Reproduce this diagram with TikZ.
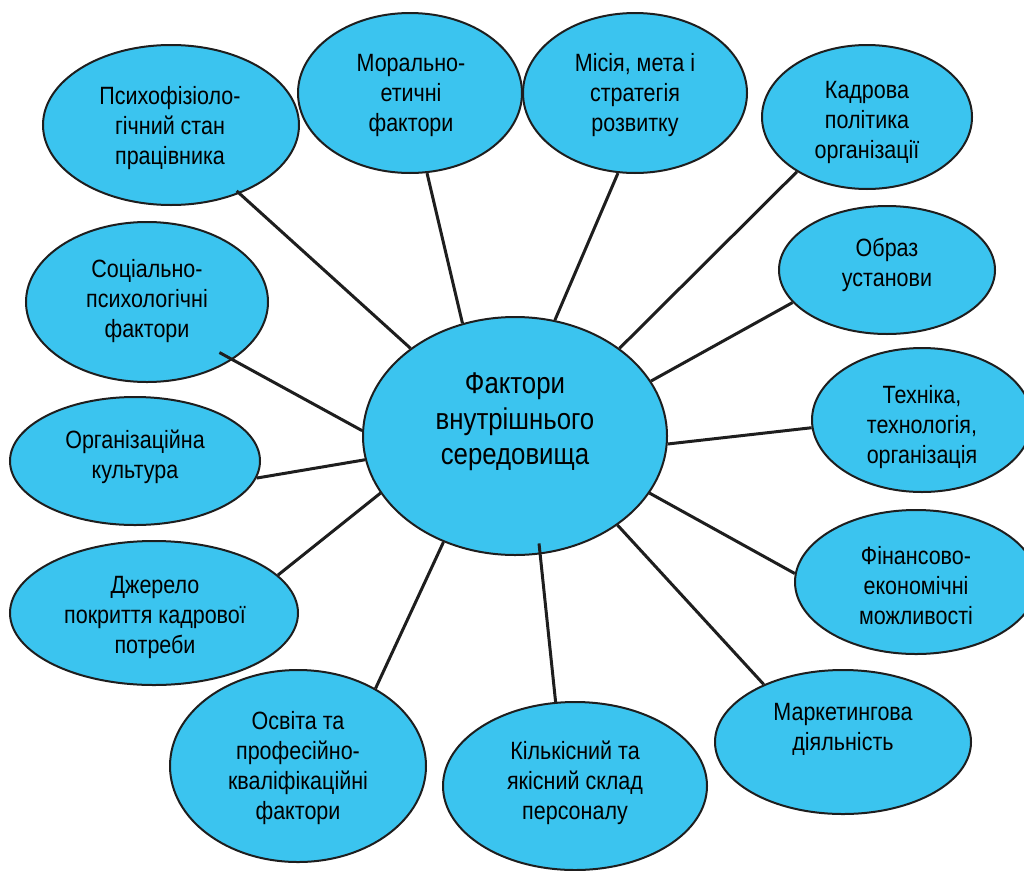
\documentclass[tikz,border=0pt]{standalone}
\usepackage{fontspec}
\setmainfont{Liberation Sans}[FakeStretch=0.86]
\usetikzlibrary{shapes.geometric}
\definecolor{bubblefill}{RGB}{59,196,239}
\definecolor{ink}{RGB}{30,30,30}
% name, cx, cy, width, height, tx, ty, text
\newcommand\bubblenode[8]{%
  \node[bub, minimum width=#4pt, minimum height=#5pt] (#1) at (#2,#3) {};
  \node[txt] (#1t) at (#6,#7) {#8};
}
\begin{document}
\begin{tikzpicture}[x=1pt,y=-1pt,
  bub/.style={ellipse, draw=ink, line width=2pt, fill=bubblefill, inner sep=0pt},
  txt/.style={align=center, font=\fontsize{25}{30}\selectfont, inner sep=0pt, text=black},
  bigtxt/.style={align=center, font=\fontsize{30}{35.5}\selectfont, inner sep=0pt, text=black},
  link/.style={draw=ink, line width=3pt}]

\useasboundingbox (0,0) rectangle (1024,870);

% central node
\node[bub, minimum width=304pt, minimum height=238pt] (c) at (515,436) {};
\node[bigtxt] (ct) at (515,422) {Фактори\\внутрішнього\\середовища};

\bubblenode{b1}{171}{125}{256}{160}{170}{128}{Психофізіоло-\\гічний стан\\працівника}
\bubblenode{b2}{410}{93}{224}{160}{411}{95}{Морально-\\етичні\\фактори}
\bubblenode{b3}{635}{93}{224}{160}{635}{95}{Місія, мета і\\стратегія\\розвитку}
\bubblenode{b4}{867}{117}{210}{144}{867}{122}{Кадрова\\політика\\організації}
\bubblenode{b5}{887}{270}{216}{128}{887}{265}{Образ\\установи}
\bubblenode{b6}{147}{302}{242}{160}{147}{301}{Соціально-\\психологічні\\фактори}
\bubblenode{b7}{135}{461}{250}{128}{135}{457}{Організаційна\\культура}
\bubblenode{b8}{922}{420}{220}{144}{922}{427}{Техніка,\\технологія,\\організація}
\bubblenode{b9}{154}{613}{288}{144}{155}{617}{Джерело\\покриття кадрової\\потреби}
\bubblenode{b10}{916}{582}{242}{144}{916}{586}{Фінансово-\\економічні\\можливості}
\bubblenode{b11}{298}{766}{256}{192}{298}{768}{Освіта та\\професійно-\\кваліфікаційні\\фактори}
\bubblenode{b12}{575}{786}{264}{168}{575}{783}{Кількісний та\\якісний склад\\персоналу}
\bubblenode{b13}{843}{742}{256}{144}{843}{729}{Маркетингова\\діяльність}

% connectors
\draw[link, shorten >=-4pt] (c.140) -- (b1.-45);
\draw[link] (c.115) -- (b2.-78);
\draw[link] (c.71) -- (b3.-102);
\draw[link] (c.40) -- (b4.-142);
\draw[link] (c.22) -- (b5.-161);
\draw[link] (c.-3) -- (b8.-176);
\draw[link] (c.-23) -- (b10.176);
\draw[link] (c.-41) -- (b13.144);
\draw[link, shorten <=-11pt] (c.-78) -- (b12.103);
\draw[link] (c.-124) -- (b11.45);
\draw[link] (c.-157) -- (b9.17);
\draw[link] (c.-171) -- (b7.-8);
\draw[link, shorten >=-15pt] (c.178) -- (b6.-34);
\end{tikzpicture}
\end{document}
